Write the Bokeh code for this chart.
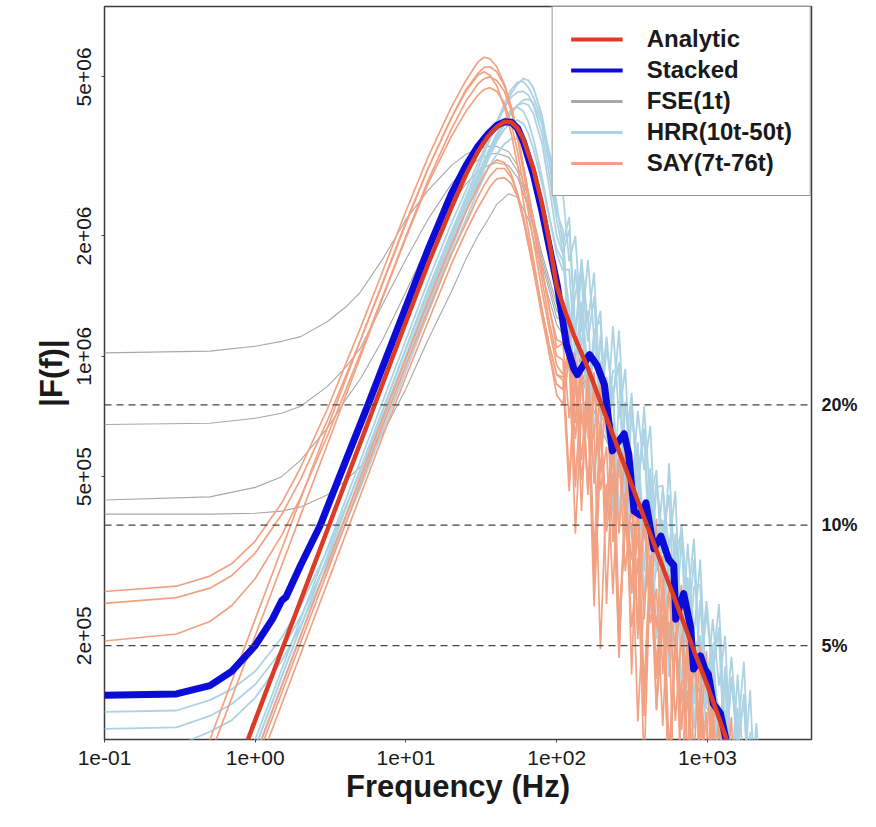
from bokeh.plotting import figure
from bokeh.models import (LogAxis, FixedTicker, CustomJSTickFormatter, Span, Legend,
                          LegendItem, Range1d)
from bokeh.embed import file_html
from bokeh.resources import INLINE

# ---------------- data ----------------
X_LIMITS = [0.1, 4.9e3]
Y_LIMITS = [1.1e5, 7.5e6]
X_TICKS = [0.1, 1, 10, 100, 1000]
Y_TICKS = [2e5, 5e5, 1e6, 2e6, 5e6]
DASH_LEVELS = [7.56e5, 3.78e5, 1.89e5]
PCT_LABELS = ["20%", "10%", "5%"]

# Analytic spectrum
AN_F = [0.5, 1, 2, 5, 10, 14, 20, 25, 30, 35, 40, 45, 50, 55, 60, 70, 80, 90, 100,
        115, 130, 160, 200, 300, 400, 600, 830, 1000, 1340, 2000]
AN_V = [6.1e4, 1.23e5, 2.45e5, 6.1e5, 1.22e6, 1.7e6, 2.35e6, 2.85e6, 3.25e6, 3.55e6,
        3.75e6, 3.86e6, 3.85e6, 3.72e6, 3.5e6, 2.95e6, 2.4e6, 1.9e6, 1.5e6,
        1.28e6, 1.13e6, 9.4e5, 7.5e5, 5.0e5, 3.75e5, 2.5e5, 1.8e5, 1.5e5, 1.1e5, 7.4e4]

# Stacked spectrum
ST_F = [0.1, 0.3, 0.5, 0.7, 1.0, 1.3, 1.5, 1.6, 2, 2.7, 4, 5.6, 8, 10, 14, 20, 25, 30,
        35, 40, 45, 50, 55, 60, 70, 80, 90, 101, 116, 130, 137, 150, 165, 185, 207,
        234, 255, 280, 300, 326, 360, 391, 441, 491, 554, 598, 616, 650, 695, 773,
        809, 850, 899, 960, 1016, 1094, 1218, 1334, 1500]
ST_V = [1.42e5, 1.43e5, 1.5e5, 1.63e5, 1.89e5, 2.2e5, 2.45e5, 2.5e5, 3.0e5, 3.78e5,
        5.5e5, 7.56e5, 1.07e6, 1.33e6, 1.85e6, 2.55e6, 3.0e6, 3.35e6, 3.6e6, 3.78e6,
        3.86e6, 3.85e6, 3.72e6, 3.45e6, 2.85e6, 2.3e6, 1.85e6, 1.5e6, 1.07e6, 9.3e5,
        9.0e5, 9.5e5, 1.01e6, 9.5e5, 8.5e5, 5.8e5, 6.1e5, 6.4e5, 5.7e5, 4.1e5,
        4.0e5, 4.3e5, 3.3e5, 3.55e5, 3.1e5, 3.0e5, 2.2e5, 2.35e5, 2.55e5, 2.1e5,
        1.65e5, 1.7e5, 1.78e5, 1.65e5, 1.6e5, 1.35e5, 1.28e5, 1.09e5, 9.5e4]

# FSE(1t) spectra
FSE_F = [0.1, 0.5, 1, 1.5, 2, 3, 4, 5, 7, 10, 14, 20, 25, 30, 35, 40, 48, 55, 65, 80,
         100, 125, 160, 200, 260, 330, 420, 540, 700, 900, 1150, 1500]
FSE_V = [
    [1.02e6, 1.03e6, 1.06e6, 1.09e6, 1.12e6, 1.22e6, 1.33e6, 1.45e6, 1.75e6, 2.2e6,
     2.6e6, 3.0e6, 3.2e6, 3.3e6, 3.35e6, 3.35e6, 3.25e6, 3.0e6, 2.5e6, 1.8e6,
     1.35e6, 1.25e6, 8.5e5, 8.0e5, 5.5e5, 5.0e5, 3.3e5, 3.2e5, 2.0e5, 1.8e5, 1.2e5, 1.0e5],
    [6.75e5, 6.8e5, 7.0e5, 7.2e5, 7.5e5, 8.4e5, 9.4e5, 1.05e6, 1.35e6, 1.75e6,
     2.2e6, 2.7e6, 2.95e6, 3.1e6, 3.2e6, 3.22e6, 3.15e6, 2.9e6, 2.4e6, 1.75e6,
     1.3e6, 1.15e6, 9.0e5, 7.0e5, 6.0e5, 4.2e5, 3.8e5, 2.7e5, 2.3e5, 1.5e5, 1.4e5, 9.0e4],
    [4.37e5, 4.45e5, 4.7e5, 5.0e5, 5.5e5, 6.6e5, 7.8e5, 8.8e5, 1.1e6, 1.45e6,
     1.9e6, 2.4e6, 2.7e6, 2.9e6, 3.0e6, 3.05e6, 3.0e6, 2.8e6, 2.35e6, 1.7e6,
     1.25e6, 1.2e6, 8.0e5, 7.5e5, 5.0e5, 4.6e5, 3.0e5, 3.0e5, 1.9e5, 1.7e5, 1.1e5, 9.5e4],
    [4.03e5, 4.03e5, 4.05e5, 4.1e5, 4.2e5, 4.5e5, 4.9e5, 5.3e5, 6.4e5, 8.3e5,
     1.1e6, 1.45e6, 1.75e6, 2.0e6, 2.2e6, 2.4e6, 2.55e6, 2.5e6, 2.2e6, 1.6e6,
     1.2e6, 1.05e6, 8.0e5, 6.5e5, 5.2e5, 4.0e5, 3.3e5, 2.5e5, 2.0e5, 1.4e5, 1.2e5, 8.0e4],
]

# shared high-frequency sampling of the noisy tails
TAIL_F = [110, 121, 133, 146, 161, 177, 195, 214, 236, 259, 285, 314, 345, 380, 418,
          459, 505, 556, 612, 673, 740, 814, 895, 985, 1083, 1192, 1311, 1442, 1586,
          1745, 1919, 2111, 2322, 2555]

# HRR(10t-50t) spectra
HRR_F = [0.1, 0.3, 0.5, 0.7, 1, 1.5, 2, 3, 5, 7, 10, 14, 20, 25, 30, 35, 40, 45, 50,
         55, 60, 65, 70, 80, 90, 100]
HRR_V = [
    [1.05e4, 3.2e4, 5.3e4, 7.4e4, 1.05e5, 1.58e5, 2.1e5, 3.15e5, 5.25e5, 7.35e5,
     1.05e6, 1.47e6, 2.05e6, 2.5e6, 2.95e6, 3.4e6, 3.85e6, 4.3e6, 4.65e6, 4.85e6,
     4.87e6, 4.7e6, 4.45e6, 3.9e6, 3.2e6, 2.75e6],
    [1.1e4, 3.3e4, 5.5e4, 7.7e4, 1.1e5, 1.65e5, 2.2e5, 3.3e5, 5.5e5, 7.7e5,
     1.1e6, 1.54e6, 2.15e6, 2.6e6, 3.05e6, 3.45e6, 3.85e6, 4.2e6, 4.45e6, 4.58e6,
     4.6e6, 4.5e6, 4.25e6, 3.6e6, 2.8e6, 2.2e6],
    [1.29e5, 1.3e5, 1.38e5, 1.47e5, 1.63e5, 1.98e5, 2.38e5, 3.27e5, 5.16e5, 7.1e5,
     1.0e6, 1.4e6, 1.95e6, 2.4e6, 2.8e6, 3.2e6, 3.55e6, 3.85e6, 4.1e6, 4.25e6,
     4.3e6, 4.25e6, 4.05e6, 3.4e6, 2.6e6, 2.0e6],
    [1.17e5, 1.18e5, 1.26e5, 1.35e5, 1.51e5, 1.84e5, 2.23e5, 3.08e5, 4.9e5, 6.75e5,
     9.5e5, 1.33e6, 1.85e6, 2.3e6, 2.7e6, 3.1e6, 3.45e6, 3.7e6, 3.85e6, 3.9e6,
     3.82e6, 3.6e6, 3.3e6, 2.7e6, 2.2e6, 1.85e6],
    [1.0e4, 3.0e4, 5.0e4, 7.0e4, 1.0e5, 1.5e5, 2.0e5, 3.0e5, 5.0e5, 7.0e5,
     1.0e6, 1.4e6, 2.0e6, 2.5e6, 2.95e6, 3.4e6, 3.8e6, 4.2e6, 4.55e6, 4.8e6,
     4.95e6, 4.9e6, 4.7e6, 4.0e6, 3.1e6, 2.4e6],
    [1.05e5, 1.06e5, 1.15e5, 1.23e5, 1.40e5, 1.73e5, 2.12e5, 2.95e5, 4.7e5, 6.5e5,
     9.2e5, 1.28e6, 1.8e6, 2.2e6, 2.6e6, 2.95e6, 3.2e6, 3.4e6, 3.5e6, 3.5e6,
     3.4e6, 3.2e6, 2.9e6, 2.3e6, 1.8e6, 1.5e6],
    [1.0e4, 3.0e4, 5.0e4, 7.0e4, 1.0e5, 1.5e5, 2.0e5, 3.0e5, 4.95e5, 6.9e5,
     9.8e5, 1.36e6, 1.9e6, 2.35e6, 2.75e6, 3.15e6, 3.5e6, 3.8e6, 4.05e6, 4.25e6,
     4.38e6, 4.4e6, 4.3e6, 3.8e6, 3.0e6, 2.3e6],
    [1.05e4, 3.15e4, 5.25e4, 7.35e4, 1.05e5, 1.58e5, 2.1e5, 3.15e5, 5.2e5, 7.3e5,
     1.04e6, 1.44e6, 2.0e6, 2.45e6, 2.85e6, 3.25e6, 3.6e6, 3.9e6, 4.15e6, 4.2e6,
     4.1e6, 3.85e6, 3.5e6, 2.8e6, 2.2e6, 1.8e6],
]
HRR_TAIL = [
    [2.55e6, 1.73e6, 2.0e6, 1.15e6, 1.74e6, 1.11e6, 1.30e6, 6.6e5, 1.19e6, 7.0e5,
     9.3e5, 4.5e5, 7.3e5, 5.2e5, 6.7e5, 3.1e5, 4.7e5, 3.3e5, 4.6e5, 1.9e5,
     3.4e5, 2.0e5, 3.1e5, 1.4e5, 2.2e5, 1.5e5, 2.0e5, 8.7e4, 1.6e5, 8.8e4,
     1.46e5, 6.7e4, 9.7e4, 4.4e4],
    [1.82e6, 2.07e6, 1.13e6, 1.62e6, 1.09e6, 1.41e6, 7.0e5, 1.05e6, 8.0e5, 9.65e5,
     4.4e5, 7.55e5, 4.7e5, 6.6e5, 3.3e5, 4.9e5, 3.5e5, 4.5e5, 2.05e5, 3.5e5,
     2.04e5, 3.1e5, 1.54e5, 2.29e5, 1.61e5, 2.1e5, 9.5e4, 1.56e5, 1.03e5, 1.43e5,
     6.5e4, 1.0e5, 6.5e4, 8.8e4],
    [1.8e6, 1.09e6, 1.65e6, 1.06e6, 1.30e6, 6.2e5, 1.13e6, 6.7e5, 8.4e5, 3.8e5,
     7.7e5, 4.9e5, 6.1e5, 2.9e5, 5.26e5, 2.9e5, 3.9e5, 1.78e5, 3.6e5, 2.3e5,
     2.8e5, 1.35e5, 2.46e5, 1.34e5, 1.83e5, 8.3e4, 1.68e5, 9.9e4, 1.32e5, 6.3e4,
     1.15e5, 6.2e4, 8.6e4, 4.3e4],
    [1.73e6, 1.33e6, 7.9e5, 1.30e6, 9.4e5, 6.4e5, 9.75e5, 6.2e5, 8.06e5, 4.0e5,
     6.0e5, 4.8e5, 5.51e5, 2.5e5, 4.3e5, 3.1e5, 3.76e5, 1.88e5, 2.8e5, 2.26e5,
     2.565e5, 1.17e5, 2.0e5, 1.35e5, 1.75e5, 8.7e4, 1.3e5, 9.9e4, 1.2e5, 5.5e4,
     9.4e4, 6.3e4, 8.2e4, 4.4e4],
    [1.91e6, 2.23e6, 1.13e6, 1.75e6, 1.21e6, 1.62e6, 7.7e5, 1.12e6, 7.6e5, 1.16e6,
     5.8e5, 8.1e5, 4.35e5, 7.5e5, 4.3e5, 5.2e5, 2.67e5, 5.4e5, 2.7e5, 3.8e5,
     2.43e5, 3.5e5, 1.68e5, 2.44e5, 1.66e5, 2.4e5, 1.15e5, 1.77e5, 1.13e5, 1.72e5,
     7.8e4, 1.21e5, 7.1e4, 1.05e5],
    [1.3e6, 1.32e6, 7.2e5, 9.9e5, 9.9e5, 4.95e5, 7.0e5, 7.5e5, 4.1e5, 5.6e5,
     5.6e5, 2.55e5, 4.2e5, 4.2e5, 2.3e5, 2.97e5, 3.17e5, 1.58e5, 2.35e5, 2.38e5,
     1.3e5, 1.67e5, 1.79e5, 8.1e4, 1.33e5, 1.34e5, 7.3e4, 1.0e5, 1.01e5, 5.1e4,
     7.1e4, 7.6e4, 4.1e4, 5.7e4],
    [2.07e6, 1.09e6, 1.44e6, 1.64e6, 7.45e5, 1.16e6, 1.23e6, 6.7e5, 9.2e5, 9.26e5,
     3.8e5, 7.25e5, 5.2e5, 6.31e5, 2.87e5, 4.7e5, 4.75e5, 2.6e5, 3.3e5, 3.58e5,
     1.62e5, 2.65e5, 2.68e5, 1.34e5, 1.89e5, 2.01e5, 9.2e4, 1.58e5, 1.06e5, 1.375e5,
     6.9e4, 1.03e5, 1.03e5, 4.7e4],
    [1.64e6, 1.65e6, 9.75e5, 1.37e6, 6.2e5, 1.13e6, 7.2e5, 8.87e5, 4.24e5, 7.72e5,
     5.6e5, 3.5e5, 5.8e5, 3.68e5, 4.78e5, 1.96e5, 3.76e5, 2.88e5, 3.26e5, 1.49e5,
     2.7e5, 1.85e5, 2.0e5, 1.12e5, 1.85e5, 1.18e5, 1.53e5, 7.0e4, 1.2e5, 8.6e4,
     1.04e5, 4.8e4, 7.7e4, 5.5e4],
]

# SAY(7t-76t) spectra
SAY_F = [0.1, 0.3, 0.5, 0.7, 1, 1.5, 2, 3, 5, 7, 10, 14, 20, 25, 30, 33, 36, 40, 45,
         50, 55, 60, 70, 80, 90, 100]
SAY_V = [
    [2.58e5, 2.66e5, 2.82e5, 3.03e5, 3.45e5, 4.3e5, 5.27e5, 7.36e5, 1.18e6, 1.63e6,
     2.31e6, 3.15e6, 4.2e6, 4.9e6, 5.45e6, 5.6e6, 5.55e6, 5.3e6, 4.8e6, 4.2e6,
     3.6e6, 3.0e6, 2.2e6, 1.65e6, 1.3e6, 1.1e6],
    [2.41e5, 2.49e5, 2.63e5, 2.83e5, 3.22e5, 4.02e5, 4.92e5, 6.88e5, 1.1e6, 1.52e6,
     2.15e6, 2.95e6, 3.95e6, 4.65e6, 5.1e6, 5.28e6, 5.3e6, 5.15e6, 4.75e6, 4.2e6,
     3.6e6, 3.0e6, 2.2e6, 1.65e6, 1.3e6, 1.05e6],
    [1.94e5, 2.02e5, 2.17e5, 2.38e5, 2.78e5, 3.57e5, 4.44e5, 6.3e5, 1.02e6, 1.41e6,
     2.0e6, 2.75e6, 3.7e6, 4.35e6, 4.8e6, 4.95e6, 5.0e6, 4.9e6, 4.6e6, 4.1e6,
     3.5e6, 2.9e6, 2.1e6, 1.55e6, 1.2e6, 1.0e6],
    [2.0e4, 6.0e4, 1.0e5, 1.4e5, 2.0e5, 3.0e5, 4.0e5, 6.0e5, 1.0e6, 1.4e6,
     1.98e6, 2.7e6, 3.55e6, 4.1e6, 4.5e6, 4.65e6, 4.7e6, 4.6e6, 4.3e6, 3.8e6,
     3.25e6, 2.7e6, 1.95e6, 1.45e6, 1.15e6, 9.5e5],
    [9.6e3, 2.9e4, 4.8e4, 6.7e4, 9.6e4, 1.44e5, 1.92e5, 2.88e5, 4.8e5, 6.7e5,
     9.5e5, 1.3e6, 1.8e6, 2.15e6, 2.5e6, 2.68e6, 2.82e6, 2.95e6, 2.95e6, 2.8e6,
     2.55e6, 2.25e6, 1.7e6, 1.3e6, 1.05e6, 9.0e5],
    [9.0e3, 2.7e4, 4.5e4, 6.3e4, 9.0e4, 1.35e5, 1.8e5, 2.7e5, 4.5e5, 6.3e5,
     8.9e5, 1.22e6, 1.7e6, 2.05e6, 2.35e6, 2.5e6, 2.65e6, 2.78e6, 2.8e6, 2.7e6,
     2.5e6, 2.2e6, 1.65e6, 1.25e6, 1.0e6, 8.5e5],
    [1.0e4, 3.0e4, 5.0e4, 7.0e4, 1.0e5, 1.5e5, 2.0e5, 3.0e5, 5.0e5, 7.0e5,
     9.9e5, 1.37e6, 1.9e6, 2.3e6, 2.65e6, 2.85e6, 3.0e6, 3.1e6, 3.05e6, 2.85e6,
     2.55e6, 2.2e6, 1.65e6, 1.3e6, 1.05e6, 9.0e5],
    [2.2e4, 6.6e4, 1.1e5, 1.54e5, 2.2e5, 3.3e5, 4.4e5, 6.6e5, 1.1e6, 1.53e6,
     2.17e6, 2.95e6, 3.95e6, 4.6e6, 5.05e6, 5.15e6, 5.05e6, 4.75e6, 4.2e6, 3.6e6,
     3.0e6, 2.45e6, 1.75e6, 1.3e6, 1.0e6, 8.0e5],
]
SAY_TAIL = [
    [1.08e6, 7.0e5, 1.02e6, 4.1e5, 9.5e5, 4.8e5, 8.7e5, 2.4e5, 6.1e5, 3.6e5,
     6.0e5, 1.6e5, 4.4e5, 2.2e5, 4.1e5, 1.3e5, 2.7e5, 1.8e5, 2.8e5, 7.6e4,
     2.1e5, 1.0e5, 1.9e5, 6.0e4, 1.33e5, 7.9e4, 1.24e5, 3.5e4, 8.6e4, 4.9e4,
     8.0e4, 2.8e4, 5.1e4, 2.7e4],
    [1.08e6, 1.16e6, 4.7e5, 8.6e5, 8.7e5, 3.2e5, 6.8e5, 3.9e5, 5.94e5, 1.9e5,
     4.4e5, 3.1e5, 4.06e5, 1.47e5, 3.18e5, 1.68e5, 2.77e5, 7.6e4, 2.05e5, 1.36e5,
     1.89e5, 6.0e4, 1.48e5, 8.5e4, 1.29e5, 3.5e4, 9.6e4, 5.8e4, 8.8e4, 2.8e4,
     6.6e4, 3.3e4, 6.0e4, 2.2e4],
    [9.8e5, 4.95e5, 9.0e5, 4.9e5, 7.45e5, 2.37e5, 5.54e5, 4.2e5, 5.09e5, 1.85e5,
     4.21e5, 2.1e5, 3.13e5, 9.5e4, 2.87e5, 1.57e5, 2.26e5, 8.6e4, 1.96e5, 9.0e4,
     1.46e5, 4.4e4, 1.34e5, 7.3e4, 1.05e5, 3.5e4, 9.2e4, 4.6e4, 6.8e4, 2.1e4,
     6.3e4, 2.9e4, 4.7e4, 1.9e4],
    [9.0e5, 1.04e6, 6.8e5, 9.9e5, 4.5e5, 9.15e5, 5.1e5, 8.4e5, 3.43e5, 5.9e5,
     3.8e5, 5.72e5, 2.09e5, 4.26e5, 2.37e5, 3.92e5, 1.6e5, 2.75e5, 1.76e5, 2.68e5,
     9.7e4, 1.99e5, 1.1e5, 1.83e5, 7.5e4, 1.28e5, 8.2e4, 1.25e5, 4.6e4, 8.8e4,
     5.2e4, 7.7e4, 3.5e4, 5.6e4],
    [8.87e5, 9.9e5, 6.2e5, 9.25e5, 4.66e5, 8.48e5, 4.62e5, 5.95e5, 2.54e5, 5.79e5,
     2.9e5, 4.29e5, 1.96e5, 3.95e5, 2.15e5, 2.62e5, 1.19e5, 2.7e5, 1.225e5, 2.02e5,
     9.1e4, 1.85e5, 9.2e4, 1.29e5, 5.5e4, 1.26e5, 5.7e4, 9.4e4, 4.3e4, 8.6e4,
     3.9e4, 6.0e4, 2.6e4, 5.3e4],
    [8.26e5, 1.07e6, 4.9e5, 7.57e5, 7.67e5, 2.94e5, 6.67e5, 3.64e5, 4.96e5, 1.76e5,
     4.56e5, 2.68e5, 3.58e5, 1.37e5, 2.8e5, 1.56e5, 2.57e5, 8.2e4, 2.01e5, 1.16e5,
     1.755e5, 6.4e4, 1.3e5, 6.6e4, 1.2e5, 3.8e4, 8.9e4, 5.4e4, 8.2e4, 3.0e4,
     5.8e4, 3.4e4, 5.0e4, 1.8e4],
    [8.7e5, 4.6e5, 9.0e5, 5.5e5, 8.9e5, 2.7e5, 6.56e5, 4.1e5, 6.8e5, 2.17e5,
     3.92e5, 2.55e5, 4.4e5, 1.26e5, 3.06e5, 2.09e5, 3.17e5, 1.01e5, 1.96e5, 1.19e5,
     2.05e5, 5.9e4, 1.52e5, 8.9e4, 1.48e5, 4.7e4, 9.8e4, 5.6e4, 9.1e4, 2.8e4,
     6.6e4, 4.2e4, 6.2e4, 2.2e4],
    [7.6e5, 9.9e5, 3.6e5, 7.4e5, 4.8e5, 6.78e5, 1.85e5, 4.76e5, 5.09e5, 2.08e5,
     3.79e5, 3.82e5, 1.22e5, 2.53e5, 2.87e5, 1.31e5, 2.14e5, 2.16e5, 5.9e4, 1.52e5,
     1.62e5, 6.7e4, 1.21e5, 1.22e5, 3.9e4, 8.1e4, 9.2e4, 4.2e4, 6.5e4, 6.9e4,
     1.9e4, 5.1e4, 5.2e4, 1.9e4],
]

LEGEND_LABELS = ["Analytic", "Stacked", "FSE(1t)", "HRR(10t-50t)", "SAY(7t-76t)"]

# ---------------- styling ----------------
FONT = "Liberation Sans"
C_RED = "#dc3b26"
C_BLUE = "#0c0cd8"
C_GREY = "#a8a8a8"
C_LBLUE = "#acd3e4"
C_SALMON = "#f2a283"
C_TEXT = "#1a1a1a"

p = figure(width=860, height=811, x_axis_type="log", y_axis_type="log",
           x_range=Range1d(X_LIMITS[0], X_LIMITS[1]),
           y_range=Range1d(Y_LIMITS[0], Y_LIMITS[1]),
           output_backend="svg", toolbar_location=None,
           min_border_left=104, min_border_right=45, min_border_top=6,
           min_border_bottom=72, background_fill_color="white",
           border_fill_color="white")
p.grid.visible = False
p.outline_line_color = "#3c3c3c"
p.outline_line_width = 1.5

sci_code = """
let e = Math.floor(Math.log10(tick) + 1e-9);
let m = Math.round(tick / Math.pow(10, e));
if (m >= 10) { m = m / 10; e += 1; }
const s = e < 0 ? '-' : '+';
const a = Math.abs(e);
return m + 'e' + s + (a < 10 ? '0' + a : '' + a);
"""

for ax, ticks in ((p.xaxis[0], X_TICKS), (p.yaxis[0], Y_TICKS)):
    ax.ticker = FixedTicker(ticks=ticks)
    ax.formatter = CustomJSTickFormatter(code=sci_code)
    ax.axis_line_color = None
    ax.major_tick_line_color = "#444444"
    ax.major_tick_in = 0
    ax.major_tick_out = 3
    ax.minor_tick_line_color = None
    ax.minor_tick_out = 0
    ax.major_label_text_font = FONT
    ax.major_label_text_font_size = "21px"
    ax.major_label_text_color = C_TEXT
    ax.axis_label_text_font = FONT
    ax.axis_label_text_font_size = "31px"
    ax.axis_label_text_font_style = "bold"
    ax.axis_label_text_color = C_TEXT

p.xaxis[0].axis_label = "Frequency (Hz)"
p.xaxis[0].major_label_standoff = 8
p.xaxis[0].axis_label_standoff = 1
p.yaxis[0].axis_label = "|F(f)|"
p.yaxis[0].major_label_orientation = "vertical"
p.yaxis[0].major_label_standoff = 10
p.yaxis[0].axis_label_standoff = 6

right = LogAxis(ticker=FixedTicker(ticks=DASH_LEVELS),
                formatter=CustomJSTickFormatter(
                    args=dict(levels=DASH_LEVELS, labels=PCT_LABELS),
                    code="""
for (let i = 0; i < levels.length; i++) {
  if (Math.abs(tick - levels[i]) / levels[i] < 1e-6) { return labels[i]; }
}
return '';
"""),
                axis_line_color=None, major_tick_line_color=None,
                major_tick_out=0, major_tick_in=0,
                minor_tick_line_color=None, minor_tick_out=0, minor_tick_in=0,
                major_label_standoff=10,
                major_label_text_font=FONT, major_label_text_font_size="18px",
                major_label_text_font_style="bold", major_label_text_color=C_TEXT)
p.add_layout(right, "right")

# ---------------- curves ----------------
for vals in FSE_V:
    p.line(FSE_F, vals, line_color=C_GREY, line_width=1.1)

for lo, hi in zip(HRR_V, HRR_TAIL):
    p.line(HRR_F + TAIL_F, lo + hi, line_color=C_LBLUE, line_width=1.8)

for lo, hi in zip(SAY_V, SAY_TAIL):
    p.line(SAY_F + TAIL_F, lo + hi, line_color=C_SALMON, line_width=1.7)

p.line(ST_F, ST_V, line_color=C_BLUE, line_width=7, line_join="round")
p.line(AN_F, AN_V, line_color=C_RED, line_width=4.5, line_join="round")

for lvl in DASH_LEVELS:
    p.add_layout(Span(location=lvl, dimension="width", line_color="#444444",
                      line_dash="7 5", line_width=1.2))

# ---------------- legend (one-point stand-in glyphs: draw nothing in the plot) ----
leg_sources = [(AN_F, AN_V), (ST_F, ST_V), (FSE_F, FSE_V[0]),
               (HRR_F, HRR_V[0]), (SAY_F, SAY_V[0])]
leg_styles = [(C_RED, 4), (C_BLUE, 4), (C_GREY, 3), (C_LBLUE, 3), (C_SALMON, 3)]
items = []
for label, (fx, fy), (col, w) in zip(LEGEND_LABELS, leg_sources, leg_styles):
    r = p.line(x=fx[:1], y=fy[:1], line_color=col, line_width=w)
    items.append(LegendItem(label=label, renderers=[r]))

legend = Legend(items=items, location="top_right", margin=0, padding=18,
                spacing=3, glyph_width=52, glyph_height=24, label_height=24,
                label_standoff=24, border_line_color="#333333",
                border_line_width=1.5, background_fill_alpha=1.0,
                label_text_font=FONT, label_text_font_style="bold",
                label_text_font_size="24px", label_text_color=C_TEXT)
p.add_layout(legend)

open("out.html", "w").write(file_html(p, INLINE))
